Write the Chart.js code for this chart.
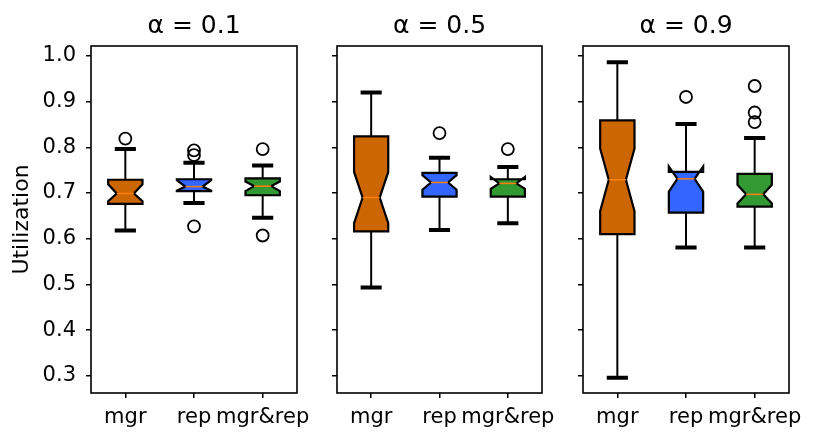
<!DOCTYPE html>
<html>
<head>
<meta charset="utf-8">
<script src="https://cdn.jsdelivr.net/npm/chart.js@4.4.0/dist/chart.umd.min.js"></script>
<style>
  html, body { margin: 0; padding: 0; background: #fff; }
  #wrap { position: relative; width: 816px; height: 443px; overflow: hidden; }
  .panel { position: absolute; top: 0; height: 443px; }
</style>
</head>
<body>
<div id="wrap">
  <div class="panel" style="left:0;width:320px"><canvas id="c0" width="320" height="443"></canvas></div>
  <div class="panel" style="left:300px;width:280px"><canvas id="c1" width="280" height="443"></canvas></div>
  <div class="panel" style="left:546px;width:270px"><canvas id="c2" width="270" height="443"></canvas></div>
</div>
<script>
// Dados
const categories = ['mgr', 'rep', 'mgr&rep'];
const panelTitles = ['α = 0.1', 'α = 0.5', 'α = 0.9'];
const yTicks = [0.3, 0.4, 0.5, 0.6, 0.7, 0.8, 0.9, 1.0];

// uma linha por painel, um valor por categoria
const whiskerLow  = [[0.618, 0.678, 0.646], [0.493, 0.619, 0.634], [0.296, 0.581, 0.581]];
const q1          = [[0.676, 0.704, 0.695], [0.616, 0.692, 0.692], [0.610, 0.657, 0.670]];
const notchLow    = [[0.682, 0.705, 0.704], [0.634, 0.707, 0.709], [0.660, 0.703, 0.677]];
const median      = [[0.699, 0.714, 0.715], [0.690, 0.723, 0.721], [0.729, 0.731, 0.697]];
const notchHigh   = [[0.719, 0.728, 0.725], [0.746, 0.739, 0.735], [0.797, 0.758, 0.718]];
const q3          = [[0.729, 0.730, 0.732], [0.824, 0.744, 0.730], [0.859, 0.746, 0.742]];
const whiskerHigh = [[0.796, 0.766, 0.760], [0.920, 0.777, 0.757], [0.986, 0.851, 0.820]];
const outliers = [
  [[0.819], [0.793, 0.783, 0.627], [0.796, 0.607]],
  [[], [0.831], [0.796]],
  [[], [0.910], [0.934, 0.876, 0.855]]
];

// Estilo
const boxColors = ['#cc6600', '#3366ff', '#339933'];
const BOX_W = 0.5;

Chart.defaults.font.family = "'DejaVu Sans', sans-serif";
Chart.defaults.color = '#000';

// Desenha os boxplots com entalhe usando as escalas do Chart.js
const notchedBoxes = {
  id: 'notchedBoxes',
  beforeDatasetsDraw(chart, args, opts) {
    const p = opts.panel;
    const xs = chart.scales.x, ys = chart.scales.y;
    const ctx = chart.ctx;
    const Y = v => ys.getPixelForValue(v);
    ctx.save();
    categories.forEach((cat, i) => {
      const pos = i + 1;
      const C = xs.getPixelForValue(pos);
      const L = xs.getPixelForValue(pos - BOX_W / 2);
      const R = xs.getPixelForValue(pos + BOX_W / 2);
      const NL = xs.getPixelForValue(pos - BOX_W / 4);
      const NR = xs.getPixelForValue(pos + BOX_W / 4);

      // bigodes
      ctx.strokeStyle = '#000';
      ctx.lineWidth = 2;
      ctx.lineCap = 'butt';
      ctx.beginPath();
      ctx.moveTo(C, Y(q1[p][i])); ctx.lineTo(C, Y(whiskerLow[p][i]));
      ctx.moveTo(C, Y(q3[p][i])); ctx.lineTo(C, Y(whiskerHigh[p][i]));
      ctx.stroke();

      // caps
      ctx.lineWidth = 4;
      ctx.lineCap = 'square';
      ctx.beginPath();
      ctx.moveTo(NL, Y(whiskerLow[p][i])); ctx.lineTo(NR, Y(whiskerLow[p][i]));
      ctx.moveTo(NL, Y(whiskerHigh[p][i])); ctx.lineTo(NR, Y(whiskerHigh[p][i]));
      ctx.stroke();

      // caixa
      ctx.lineCap = 'butt';
      ctx.lineJoin = 'miter';
      ctx.lineWidth = 2.2;
      ctx.beginPath();
      ctx.moveTo(L, Y(q1[p][i]));
      ctx.lineTo(R, Y(q1[p][i]));
      ctx.lineTo(R, Y(notchLow[p][i]));
      ctx.lineTo(NR, Y(median[p][i]));
      ctx.lineTo(R, Y(notchHigh[p][i]));
      ctx.lineTo(R, Y(q3[p][i]));
      ctx.lineTo(L, Y(q3[p][i]));
      ctx.lineTo(L, Y(notchHigh[p][i]));
      ctx.lineTo(NL, Y(median[p][i]));
      ctx.lineTo(L, Y(notchLow[p][i]));
      ctx.closePath();
      ctx.fillStyle = boxColors[i];
      ctx.fill();
      ctx.stroke();

      // mediana
      ctx.strokeStyle = '#ff7f0e';
      ctx.lineWidth = 1.5;
      ctx.beginPath();
      ctx.moveTo(NL, Y(median[p][i])); ctx.lineTo(NR, Y(median[p][i]));
      ctx.stroke();
    });
    ctx.restore();
  },
  afterDraw(chart) {
    const a = chart.chartArea;
    const ctx = chart.ctx;
    ctx.save();
    ctx.strokeStyle = '#000';
    ctx.lineWidth = 1.6;
    ctx.strokeRect(a.left, a.top, a.right - a.left, a.bottom - a.top);
    ctx.restore();
  }
};

const yAxisWidths = [91, 37, 37];
const rightPads = [23, 38, 27];

function makePanel(p) {
  const points = [];
  outliers[p].forEach((vals, i) => vals.forEach(v => points.push({ x: i + 1, y: v })));

  new Chart(document.getElementById('c' + p), {
    type: 'scatter',
    data: {
      datasets: [{
        data: points,
        pointRadius: 6,
        pointHoverRadius: 6,
        pointBorderWidth: 1.8,
        pointBorderColor: '#000',
        pointBackgroundColor: 'rgba(0,0,0,0)'
      }]
    },
    options: {
      responsive: false,
      animation: false,
      layout: { padding: { left: 0, right: rightPads[p], top: 0, bottom: 0 } },
      plugins: {
        legend: { display: false },
        tooltip: { enabled: false },
        title: {
          display: true,
          text: panelTitles[p],
          fullSize: false,
          font: { size: 25, weight: 'normal' },
          padding: { top: 11, bottom: 5 }
        },
        notchedBoxes: { panel: p }
      },
      scales: {
        x: {
          type: 'linear',
          min: 0.5,
          max: 3.5,
          afterBuildTicks: s => { s.ticks = categories.map((c, i) => ({ value: i + 1 })); },
          afterFit: s => { s.height = 50; s.paddingLeft = 0; s.paddingRight = 0; },
          ticks: {
            autoSkip: false,
            maxRotation: 0,
            padding: 7,
            font: { size: 21 },
            callback: v => categories[Math.round(v) - 1]
          },
          grid: { drawOnChartArea: false, color: '#000', lineWidth: 1.5, tickLength: 5 },
          border: { display: false }
        },
        y: {
          min: 0.2625,
          max: 1.0215,
          afterBuildTicks: s => { s.ticks = yTicks.map(v => ({ value: v })); },
          afterFit: s => { s.width = yAxisWidths[p]; s.paddingTop = 0; s.paddingBottom = 0; },
          ticks: {
            padding: 10,
            font: { size: 21 },
            callback: v => p === 0 ? v.toFixed(1) : ''
          },
          grid: { drawOnChartArea: false, color: '#000', lineWidth: 1.5, tickLength: 5 },
          border: { display: false },
          title: {
            display: p === 0,
            text: 'Utilization',
            font: { size: 22 },
            padding: { top: 9, bottom: 0 }
          }
        }
      }
    },
    plugins: [notchedBoxes]
  });
}

[0, 1, 2].forEach(makePanel);
</script>
</body>
</html>
